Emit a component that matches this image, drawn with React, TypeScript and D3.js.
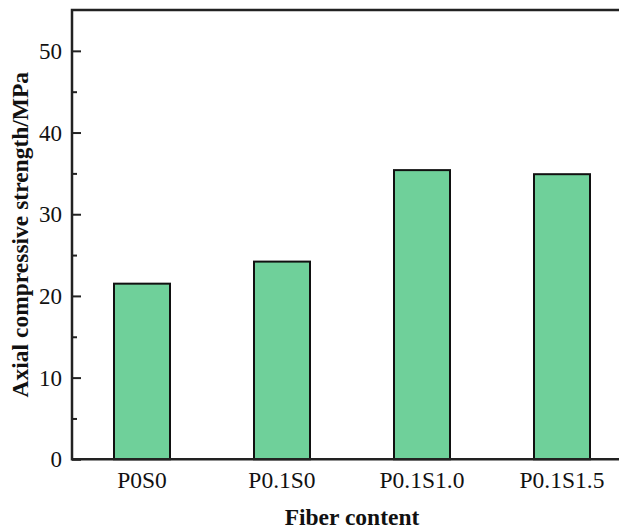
import React, { useEffect, useRef } from 'react';
import * as d3 from 'd3';

// Samples along the x axis
const categories = ['P0S0', 'P0.1S0', 'P0.1S1.0', 'P0.1S1.5'];
// Axial compressive strength (MPa)
const strength = [21.5, 24.2, 35.4, 34.9];
// Labelled y ticks and the minor ones between them
const yTicks = [0, 10, 20, 30, 40, 50];
const yMinorTicks = [5, 15, 25, 35, 45];

const App = () => {
    const svgRef = useRef<SVGSVGElement>(null);

    useEffect(() => {
        const width = 619;
        const height = 529;
        // plot box; the right side is cut off by the picture edge like in the original
        const left = 72, right = 632, top = 10, bottom = 459.3;

        const svg = d3.select(svgRef.current);
        svg.selectAll('*').remove();
        svg.attr('width', width).attr('height', height);

        const font = '"Liberation Serif", "Times New Roman", serif';

        const xScale = d3.scaleBand()
            .domain(categories)
            .range([left, right])
            .paddingInner(0.6)
            .paddingOuter(0.3);

        const yScale = d3.scaleLinear()
            .domain([0, 55])
            .range([bottom, top]);

        // bars
        svg.selectAll('.bar')
            .data(categories)
            .enter()
            .append('rect')
            .attr('class', 'bar')
            .attr('x', d => xScale(d)!)
            .attr('y', (d, i) => yScale(strength[i]))
            .attr('width', xScale.bandwidth())
            .attr('height', (d, i) => bottom - yScale(strength[i]))
            .attr('fill', '#6fd09a')
            .attr('stroke', '#111')
            .attr('stroke-width', 2);

        // y axis with inward ticks
        const yAxis = svg.append('g')
            .attr('transform', `translate(${left},0)`)
            .call(d3.axisRight(yScale).tickValues(yTicks).tickSize(9).tickFormat(() => ''));
        yAxis.select('.domain').remove();
        yAxis.selectAll('line').attr('stroke', '#222').attr('stroke-width', 2);

        const yMinor = svg.append('g')
            .attr('transform', `translate(${left},0)`)
            .call(d3.axisRight(yScale).tickValues(yMinorTicks).tickSize(5).tickFormat(() => ''));
        yMinor.select('.domain').remove();
        yMinor.selectAll('line').attr('stroke', '#222').attr('stroke-width', 2);

        svg.append('g')
            .selectAll('text')
            .data(yTicks)
            .enter()
            .append('text')
            .attr('x', left - 10)
            .attr('y', d => yScale(d))
            .attr('dy', '0.35em')
            .attr('text-anchor', 'end')
            .attr('font-family', font)
            .attr('font-size', '23px')
            .attr('fill', '#111')
            .text(d => d);

        // x axis labels (no ticks)
        svg.append('g')
            .selectAll('text')
            .data(categories)
            .enter()
            .append('text')
            .attr('x', d => xScale(d)! + xScale.bandwidth() / 2)
            .attr('y', 488)
            .attr('text-anchor', 'middle')
            .attr('font-family', font)
            .attr('font-size', '23.5px')
            .attr('fill', '#111')
            .text(d => d);

        // frame: left, bottom, top
        svg.append('path')
            .attr('d', `M${right},${top}H${left}V${bottom}H${right}`)
            .attr('fill', 'none')
            .attr('stroke', '#222')
            .attr('stroke-width', 2.5);

        // axis titles
        svg.append('text')
            .attr('x', (left + right) / 2)
            .attr('y', 524.5)
            .attr('text-anchor', 'middle')
            .attr('font-family', font)
            .attr('font-weight', 'bold')
            .attr('font-size', '23.5px')
            .attr('fill', '#111')
            .text('Fiber content');

        svg.append('text')
            .attr('transform', `translate(28,${(top + bottom) / 2}) rotate(-90)`)
            .attr('text-anchor', 'middle')
            .attr('font-family', font)
            .attr('font-weight', 'bold')
            .attr('font-size', '23.5px')
            .attr('fill', '#111')
            .text('Axial compressive strength/MPa');
    }, []);

    return (
        <div style={{ position: 'fixed', left: 0, top: 0, background: '#fff' }}>
            <svg ref={svgRef} style={{ display: 'block' }}></svg>
        </div>
    );
};

export default App;
